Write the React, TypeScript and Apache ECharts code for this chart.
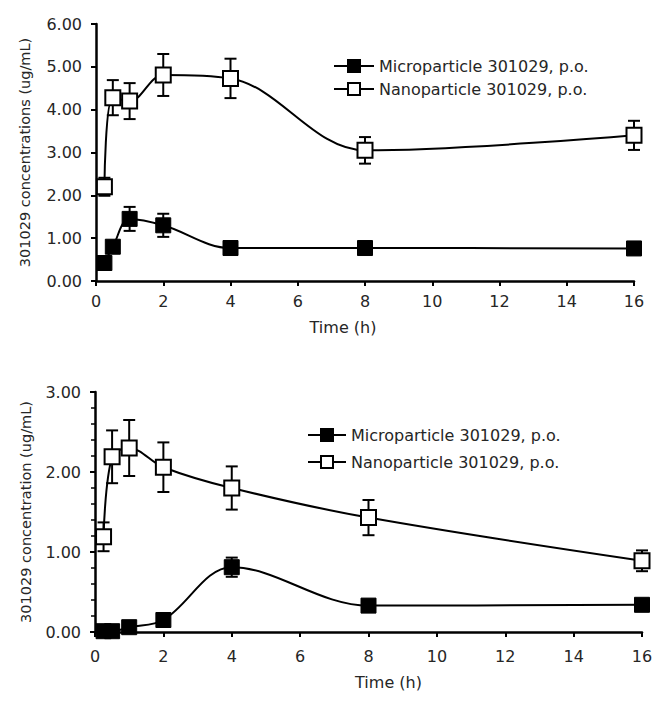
import React, { useEffect, useRef } from "react";
import * as echarts from "echarts";

const timePoints = [0.25, 0.5, 1, 2, 4, 8, 16];
const xTicks = [0, 2, 4, 6, 8, 10, 12, 14, 16];

const seriesNames = ["Microparticle 301029, p.o.", "Nanoparticle 301029, p.o."];

// Top panel (concentrations)
const topMicroMean = [0.42, 0.8, 1.45, 1.3, 0.77, 0.77, 0.76];
const topMicroErr = [0.04, 0.1, 0.28, 0.27, 0.08, 0.08, 0.06];
const topNanoMean = [2.2, 4.28, 4.2, 4.81, 4.73, 3.05, 3.4];
const topNanoErr = [0.21, 0.41, 0.42, 0.49, 0.46, 0.31, 0.34];

// Bottom panel (concentration)
const botMicroMean = [0.01, 0.01, 0.06, 0.15, 0.81, 0.33, 0.34];
const botMicroErr = [0.0, 0.0, 0.02, 0.03, 0.12, 0.04, 0.03];
const botNanoMean = [1.19, 2.19, 2.3, 2.06, 1.8, 1.43, 0.89];
const botNanoErr = [0.18, 0.33, 0.35, 0.31, 0.27, 0.22, 0.13];

const FONT = "DejaVu Sans";
const TEXT = "#262626";

const pairs = (m: number[]) => timePoints.map((t, i) => [t, m[i]]);
const triples = (m: number[], e: number[]) => timePoints.map((t, i) => [t, m[i], e[i]]);

function errorSeries(idx: number, m: number[], e: number[]) {
  return {
    type: "custom",
    name: "err" + idx + "-" + m[0],
    xAxisIndex: idx,
    yAxisIndex: idx,
    z: 1,
    encode: { x: 0, y: 1 },
    data: triples(m, e),
    renderItem: (params: any, api: any) => {
      const x = api.value(0);
      const y = api.value(1);
      const err = api.value(2);
      const top = api.coord([x, y + err]);
      const bot = api.coord([x, y - err]);
      const cap = 6;
      const st = { stroke: "#000", lineWidth: 2 };
      return {
        type: "group",
        children: [
          { type: "line", shape: { x1: top[0], y1: top[1], x2: bot[0], y2: bot[1] }, style: st },
          { type: "line", shape: { x1: top[0] - cap, y1: top[1], x2: top[0] + cap, y2: top[1] }, style: st },
          { type: "line", shape: { x1: bot[0] - cap, y1: bot[1], x2: bot[0] + cap, y2: bot[1] }, style: st },
        ],
      };
    },
  };
}

function lineSeries(idx: number, name: string, m: number[], open: boolean) {
  return {
    type: "line",
    name,
    xAxisIndex: idx,
    yAxisIndex: idx,
    z: 3,
    data: pairs(m),
    smooth: 0.35,
    symbol: "rect",
    symbolSize: 15,
    showAllSymbol: true,
    lineStyle: { color: "#000", width: 2 },
    itemStyle: open
      ? { color: "#fff", borderColor: "#000", borderWidth: 2 }
      : { color: "#000", borderColor: "#000", borderWidth: 1 },
  };
}

const axisCommon = {
  axisLine: { show: true, onZero: false, lineStyle: { color: "#000", width: 2.5 } },
  axisTick: { show: true, inside: false, length: 5, lineStyle: { color: "#000", width: 2 } },
  splitLine: { show: false },
};

export default function App() {
  const ref = useRef<HTMLDivElement>(null);
  useEffect(() => {
    if (!ref.current) return;
    const chart = echarts.init(ref.current, null, { renderer: "svg" });
    const xAxis = (idx: number, margin: number, gap: number, padding: number[]) => ({
      type: "value",
      gridIndex: idx,
      min: 0,
      max: 16,
      interval: 2,
      ...axisCommon,
      axisLabel: {
        margin,
        color: TEXT,
        fontFamily: FONT,
        fontSize: 16,
        formatter: (v: number) => (xTicks.includes(v) ? String(v) : ""),
      },
      name: "Time (h)",
      nameLocation: "middle",
      nameGap: gap,
      nameTextStyle: { color: TEXT, fontFamily: FONT, fontSize: 16, padding },
    });
    const yAxis = (idx: number, max: number, name: string, gap: number, minor: boolean) => ({
      type: "value",
      gridIndex: idx,
      min: 0,
      max,
      interval: 1,
      ...axisCommon,
      minorTick: minor
        ? { show: true, splitNumber: 5, length: 4, lineStyle: { color: "#000", width: 1.5 } }
        : { show: false },
      axisLabel: {
        margin: 14,
        color: TEXT,
        fontFamily: FONT,
        fontSize: 16,
        formatter: (v: number) => v.toFixed(2),
      },
      name,
      nameLocation: "middle",
      nameGap: gap,
      nameTextStyle: { color: TEXT, fontFamily: FONT, fontSize: 14.5 },
    });
    const legendCommon = {
      orient: "vertical",
      padding: 0,
      itemWidth: 40,
      itemHeight: 15,
      itemGap: 7,
      data: seriesNames,
      selectedMode: false,
      textStyle: { color: TEXT, fontFamily: FONT, fontSize: 16, lineHeight: 16 },
      itemStyle: { borderWidth: 2 },
    };
    chart.setOption({
      animation: false,
      backgroundColor: "#fff",
      grid: [
        { left: 96, top: 24, width: 538, height: 257 },
        { left: 95, top: 392, width: 547, height: 240 },
      ],
      legend: [
        { ...legendCommon, left: 333, top: 58, itemGap: 7 },
        { ...legendCommon, left: 307, top: 427, itemGap: 11, itemWidth: 38 },
      ],
      xAxis: [xAxis(0, 12, 38, [0, 44, 0, 0]), xAxis(1, 16, 42, [0, 0, 0, 40])],
      yAxis: [
        yAxis(0, 6, "301029 concentrations (ug/mL)", 64, false),
        yAxis(1, 3, "301029 concentration (ug/mL)", 62, true),
      ],
      series: [
        errorSeries(0, topMicroMean, topMicroErr),
        errorSeries(0, topNanoMean, topNanoErr),
        errorSeries(1, botMicroMean, botMicroErr),
        errorSeries(1, botNanoMean, botNanoErr),
        lineSeries(0, seriesNames[0], topMicroMean, false),
        lineSeries(0, seriesNames[1], topNanoMean, true),
        lineSeries(1, seriesNames[0], botMicroMean, false),
        lineSeries(1, seriesNames[1], botNanoMean, true),
      ],
    });
    return () => chart.dispose();
  }, []);
  return (
    <div
      ref={ref}
      style={{ position: "absolute", left: 0, top: 0, width: 662, height: 705, background: "#fff" }}
    />
  );
}
